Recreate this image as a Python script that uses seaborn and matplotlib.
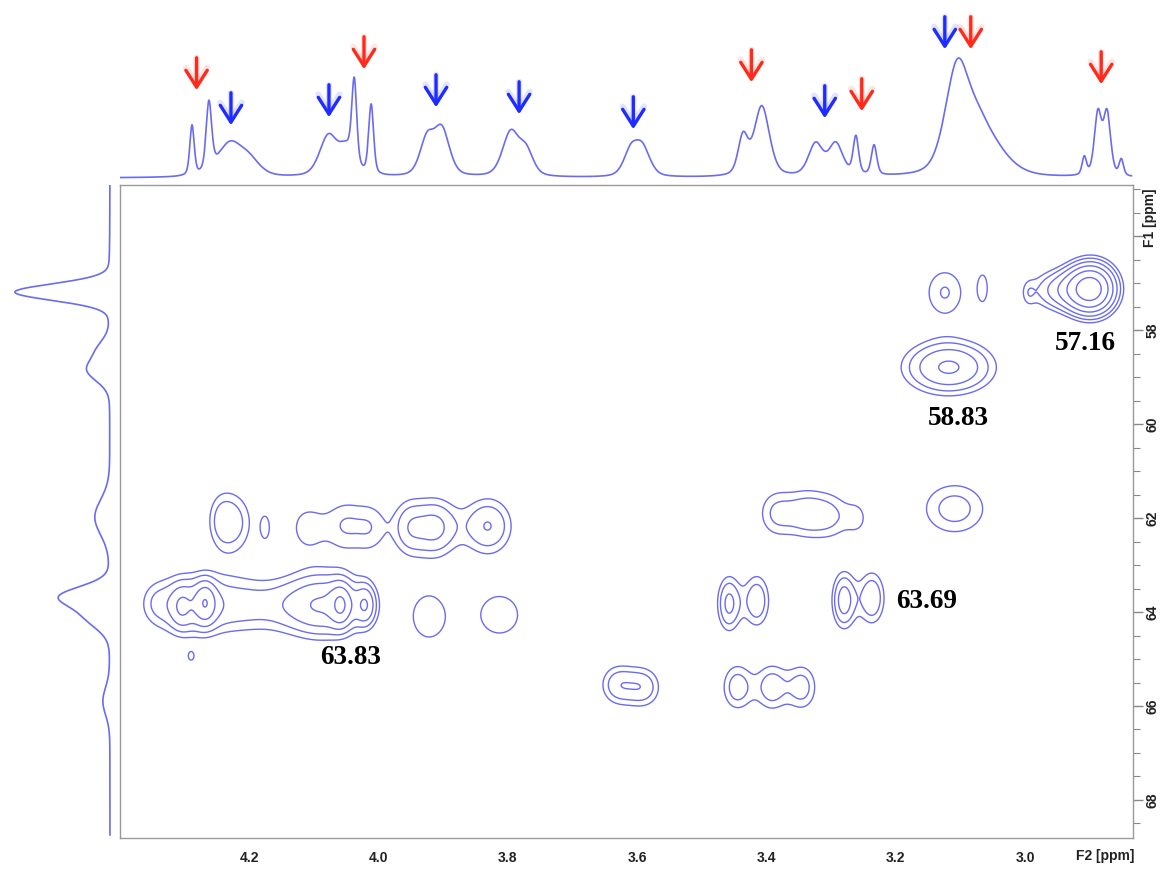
import numpy as np
import pandas as pd
import seaborn as sns
import matplotlib.pyplot as plt

# --- 1H projection (top trace): shift [ppm], height, half width [ppm]
h_shift = [4.283, 4.257, 4.225, 4.195, 4.073, 4.045, 4.033, 4.007, 3.921, 3.898,
           3.792, 3.768, 3.607, 3.589, 3.434, 3.405, 3.322, 3.291, 3.260, 3.232,
           3.104, 3.070, 3.040, 2.908, 2.887, 2.873, 2.851]
h_height = [50, 68, 32, 15, 40, 25, 82, 70, 36, 46,
            44, 24, 24, 28, 38, 70, 32, 32, 38, 30,
            105, 40, 15, 18, 62, 62, 16]
h_width = [0.004, 0.005, 0.022, 0.02, 0.016, 0.014, 0.0045, 0.0045, 0.013, 0.014,
           0.015, 0.013, 0.013, 0.014, 0.009, 0.014, 0.013, 0.013, 0.005, 0.005,
           0.022, 0.025, 0.03, 0.004, 0.0065, 0.0065, 0.004]

# --- 13C projection (left trace)
c_shift = [57.19, 58.85, 58.40, 61.98, 63.66, 64.10, 65.90]
c_height = [95, 22, 10, 15, 46, 22, 7]
c_width = [0.21, 0.28, 0.25, 0.45, 0.25, 0.30, 0.35]

# --- cross peaks: F2 shift, F1 shift, intensity, widths
cp_f2 = [3.124, 3.065, 2.898, 2.945, 2.995, 3.118,
         4.245, 4.222, 4.175, 4.110, 4.052, 4.010, 3.955, 3.913, 3.831,
         3.385, 3.340, 3.300, 3.258, 3.109,
         4.345, 4.285, 4.305, 4.268, 4.200, 4.150, 4.100, 4.075, 4.058, 4.020,
         4.290, 3.922, 3.813,
         3.458, 3.415, 3.280, 3.237,
         3.630, 3.590, 3.445, 3.392, 3.345]
cp_f1 = [57.20, 57.10, 57.12, 57.15, 57.22, 58.79,
         62.05, 62.10, 62.20, 62.20, 62.15, 62.20, 62.20, 62.20, 62.17,
         61.90, 61.90, 61.95, 62.00, 61.80,
         63.80, 63.85, 63.90, 63.80, 63.85, 63.85, 63.85, 63.85, 63.85, 63.85,
         64.95, 64.10, 64.06,
         63.82, 63.76, 63.75, 63.70,
         65.55, 65.60, 65.60, 65.60, 65.60]
cp_int = [1.55, 1.15, 9.0, 2.5, 0.8, 3.6,
          1.1, 1.6, 1.1, 1.25, 1.35, 1.25, 1.6, 2.5, 2.28,
          1.55, 1.55, 1.5, 0.95, 1.8,
          0.5, 2.6, 1.4, 2.7, 1.0, 1.0, 1.0, 2.6, 2.9, 2.3,
          1.05, 1.4, 1.4,
          2.5, 2.1, 2.8, 2.2,
          1.9, 1.9, 1.9, 1.9, 1.8]
cp_w2 = [0.026, 0.010, 0.024, 0.032, 0.008, 0.046,
         0.016, 0.022, 0.008, 0.025, 0.022, 0.020, 0.018, 0.025, 0.028,
         0.022, 0.022, 0.024, 0.014, 0.040,
         0.015, 0.050, 0.011, 0.011, 0.030, 0.030, 0.030, 0.045, 0.011, 0.011,
         0.006, 0.028, 0.034,
         0.013, 0.015, 0.013, 0.015,
         0.020, 0.020, 0.018, 0.018, 0.018]
cp_w1 = [0.45, 0.40, 0.34, 0.30, 0.22, 0.38,
         0.45, 0.50, 0.30, 0.45, 0.45, 0.45, 0.45, 0.45, 0.45,
         0.40, 0.40, 0.40, 0.30, 0.45,
         0.30, 0.48, 0.30, 0.30, 0.45, 0.45, 0.45, 0.48, 0.30, 0.30,
         0.12, 0.52, 0.47,
         0.42, 0.42, 0.42, 0.42,
         0.32, 0.32, 0.38, 0.38, 0.38]
levels = [1, 1.5, 2.25, 3.4, 5.1, 7.6]

# --- arrows over the 1H trace
arrow_shift = [4.276, 4.223, 4.072, 4.018, 3.907, 3.779, 3.603, 3.421, 3.308,
               3.251, 3.123, 3.083, 2.882]
arrow_tip = [85, 50, 58, 106, 68, 61, 46, 93, 57, 64, 126, 126, 91]
arrow_color = ['red', 'blue', 'blue', 'red', 'blue', 'blue', 'blue', 'red', 'blue',
               'red', 'blue', 'red', 'red']

# --- peak labels
label_text = ['57.16', '58.83', '63.83', '63.69']
label_f2 = [2.906, 3.103, 4.043, 3.152]
label_f1 = [58.28, 59.87, 64.96, 63.77]

f2_lim = (4.394, 2.833)
f1_lim = (68.81, 54.91)
trace_col = '#6b6bf0'

sns.set_style('white')
plt.rcParams['font.family'] = ['Liberation Sans', 'DejaVu Sans']


def voigt(x, pos, hgt, wid, eta):
    out = np.zeros_like(x)
    for p, h, w in zip(pos, hgt, wid):
        u = (x - p) / w
        out += h * (eta / (1 + u ** 2) + (1 - eta) * np.exp(-np.log(2) * u ** 2))
    return out


fig = plt.figure(figsize=(11.63, 8.69), dpi=100)
W, H = 1163, 869
ax = fig.add_axes([120 / W, 1 - 838 / H, 1013 / W, 653 / H])
ax_top = fig.add_axes([120 / W, 1 - 182 / H, 1013 / W, 177 / H])
ax_left = fig.add_axes([5 / W, 1 - 838 / H, 110 / W, 653 / H])

# cross peaks
gx = np.linspace(f2_lim[1], f2_lim[0], 900)
gy = np.linspace(f1_lim[1], f1_lim[0], 600)
X, Y = np.meshgrid(gx, gy)
Z = np.zeros_like(X)
for a, b, c, wa, wb in zip(cp_f2, cp_f1, cp_int, cp_w2, cp_w1):
    Z += c * np.exp(-0.5 * ((X - a) / wa) ** 2 - 0.5 * ((Y - b) / wb) ** 2)
ax.contour(X, Y, Z, levels=levels, colors=trace_col, linewidths=1.0)

for t, a, b in zip(label_text, label_f2, label_f1):
    ax.text(a, b, t, ha='center', va='center', fontsize=19.5, fontweight='bold',
            family='Liberation Serif', color='black')

ax.set_xlim(*f2_lim)
ax.set_ylim(*f1_lim)
ax.yaxis.tick_right()
ax.set_xticks([4.2, 4.0, 3.8, 3.6, 3.4, 3.2, 3.0])
ax.set_xticklabels(['4.2', '4.0', '3.8', '3.6', '3.4', '3.2', '3.0'])
ax.set_xticks(np.arange(2.85, 4.40, 0.05), minor=True)
ax.set_yticks([56, 58, 60, 62, 64, 66, 68])
ax.set_yticklabels(['', '58', '60', '62', '64', '66', '68'], rotation=90, va='center')
ax.set_yticks(np.arange(55, 69, 0.5), minor=True)
ax.tick_params(which='both', direction='out', colors='#888888', labelcolor='#222222',
               labelsize=10)
ax.tick_params(which='major', length=7, width=1)
ax.tick_params(which='minor', length=5, width=0.8)
ax.tick_params(axis='x', pad=2)
ax.tick_params(axis='y', pad=2)
for lab in ax.get_xticklabels() + ax.get_yticklabels():
    lab.set_fontweight('bold')
for s in ax.spines.values():
    s.set_color('#999999')
    s.set_linewidth(1)
ax.text(2.876, -0.027, 'F2 [ppm]', transform=ax.get_xaxis_transform(), ha='center',
        va='center', fontsize=10, fontweight='bold', color='#222222')
ax.text(1.0168, 55.6, 'F1 [ppm]', transform=ax.get_yaxis_transform(), ha='center',
        va='center', rotation=90, fontsize=10, fontweight='bold', color='#222222')

# top 1H trace
hx = np.linspace(4.395, 2.835, 3000)
top_df = pd.DataFrame({'ppm': hx, 'int': voigt(hx, h_shift, h_height, h_width, 0.4)})
sns.lineplot(data=top_df, x='ppm', y='int', ax=ax_top, color=trace_col, lw=1.2,
             estimator=None)
for x0, tip, col in zip(arrow_shift, arrow_tip, arrow_color):
    c = '#ff2a1a' if col == 'red' else '#1f2cff'
    ax_top.annotate('', xy=(x0, tip), xytext=(x0, tip + 38),
                    arrowprops=dict(arrowstyle='->,head_length=0.55,head_width=0.35',
                                    color=c, lw=4.5, alpha=0.12, mutation_scale=22))
    ax_top.annotate('', xy=(x0, tip), xytext=(x0, tip + 38),
                    arrowprops=dict(arrowstyle='->,head_length=0.55,head_width=0.35',
                                    color=c, lw=2.4, mutation_scale=22))
ax_top.set_xlim(*f2_lim)
ax_top.set_ylim(-4, 173)
ax_top.axis('off')

# left 13C trace
cy = np.linspace(54.91, 68.75, 1500)
left_df = pd.DataFrame({'ppm': cy, 'int': voigt(cy, c_shift, c_height, c_width, 0.1)})
sns.lineplot(data=left_df, x='int', y='ppm', ax=ax_left, color=trace_col, lw=1.2,
             estimator=None, orient='y')
ax_left.set_xlim(105, -5)
ax_left.set_ylim(*f1_lim)
ax_left.axis('off')

fig.savefig('out.png', dpi=100)
